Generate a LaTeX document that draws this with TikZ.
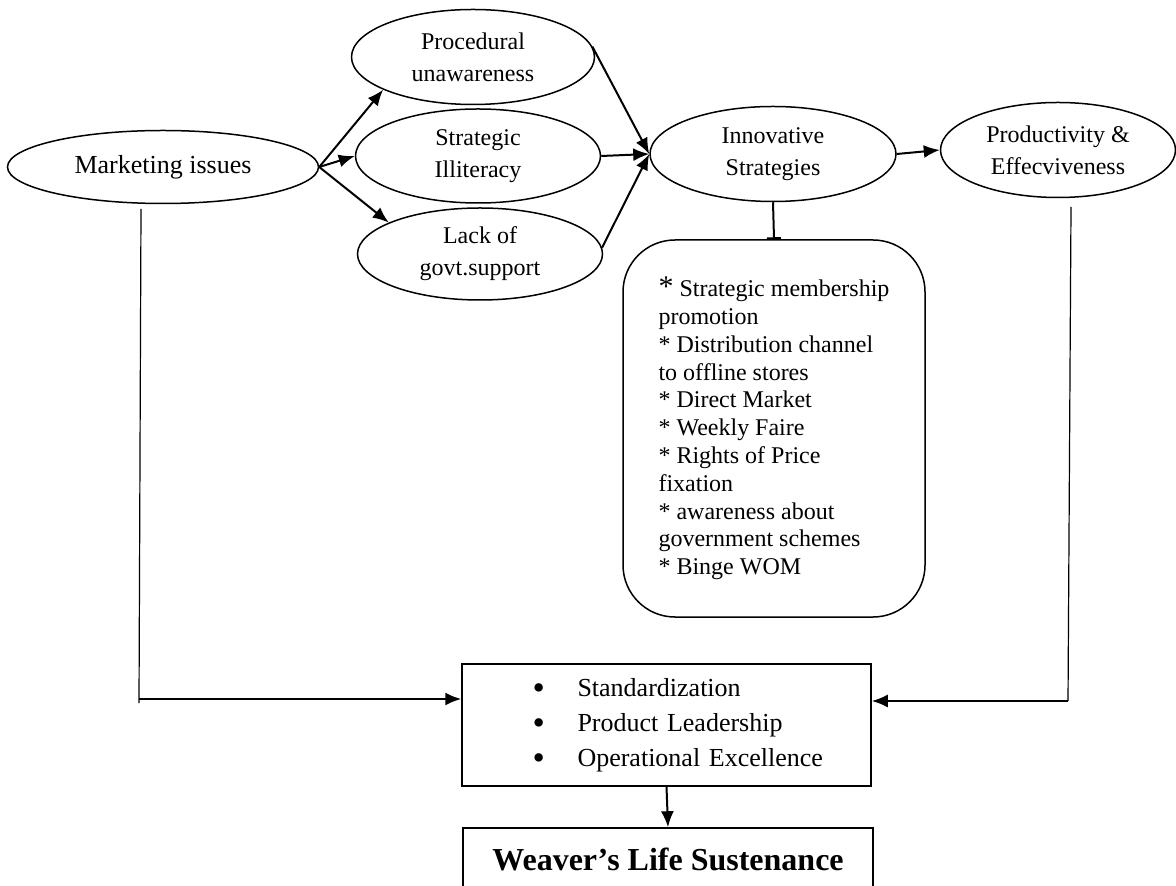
\documentclass[tikz,border=0pt]{standalone}
\usepackage{fontspec}
\setmainfont{Liberation Serif}
\usetikzlibrary{arrows.meta, positioning, shapes.geometric}

\newcommand{\stditem}[1]{\hspace*{25.5pt}\makebox[22.5pt][l]{\smash{\raisebox{-1.8pt}{\scalebox{1.35}{\textbullet}}}}#1}

\begin{document}
\begin{tikzpicture}[
  x=0.5pt, y=-0.5pt,
  every node/.style = {
    align=center,
    font=\fontsize{12}{16}\selectfont,
    line width=0.75pt
  },
  issue/.style = {ellipse, draw, inner sep=0pt},
  notebox/.style = {draw, rounded corners=26pt, align=left,
    minimum width=151pt, minimum height=188.5pt,
    font=\fontsize{12}{13.9}\selectfont},
  plainbox/.style = {draw, rectangle, inner sep=0pt},
  arrow/.style = {-{Latex[length=8pt, width=6.5pt]}, line width=1pt},
  barline/.style = {-{Bar[width=7pt]}, line width=1pt},
  link/.style = {line width=0.6pt}
]
\useasboundingbox (0,0) rectangle (1176,886);

% Issues (left)
\node[issue, minimum width=155.5pt, minimum height=36.5pt,
      font=\fontsize{13}{16}\selectfont] (mkt) at (163,167) {Marketing issues};

\node[issue, minimum width=121.5pt, minimum height=47.5pt] (proc) at (473,57) {Procedural\\unawareness};
\node[issue, minimum width=122.5pt, minimum height=47pt] (strat) at (478,156) {Strategic\\Illiteracy};
\node[issue, minimum width=122.5pt, minimum height=46pt] (lack) at (480,254) {Lack of\\govt.support};

% Strategies and outcome (top right)
\node[issue, minimum width=123pt, minimum height=47.5pt] (innov) at (773,154) {Innovative\\Strategies};
\node[issue, minimum width=117.5pt, minimum height=47.5pt] (prod) at (1058,150) {Productivity \&\\Effecviveness};

% List of strategies
\node[notebox] (notes) at (774,428.5) {{\fontsize{15}{13.9}\selectfont *}\ Strategic membership\\promotion\\* Distribution channel\\to offline stores\\* Direct Market\\* Weekly Faire\\* Rights of Price\\fixation\\* awareness about\\government schemes\\* Binge WOM};

% Bottom boxes
\node[plainbox, minimum width=204.5pt, minimum height=61pt, align=left,
      text width=185pt, inner xsep=9.75pt,
      font=\fontsize{13}{17.5}\selectfont] (std) at (666.5,725)
      {\stditem{Standardization}\\\stditem{Product Leadership}\\\stditem{Operational Excellence}};
\node[plainbox, minimum width=205pt, minimum height=31pt,
      font=\fontsize{16}{18}\selectfont\bfseries] (weaver) at (668,859) {Weaver’s Life Sustenance};

% corner points of the side lines
\coordinate (ltop) at (141,209);
\coordinate (lbot) at (139,703);
\coordinate (ljoin) at (139,699);
\coordinate (rtop) at (1071,207);
\coordinate (rbot) at (1068,701);
\coordinate (rjoin) at (1068,701);

% === ARROWS ===
\draw[arrow] (mkt.east) -- (proc.200);
\draw[arrow] (mkt.east) -- (strat.west);
\draw[arrow] (mkt.east) -- (lack.161);

\draw[arrow] (proc.5) -- (innov.west);
\draw[arrow] (strat.east) -- (innov.west);
\draw[arrow] (lack.3) -- (innov.west);

\draw[arrow] (innov.east) -- (prod.west);
\draw[barline] (innov.south) -- (notes.north);

% side lines into the box
\draw[link] (ltop) -- (lbot);
\draw[arrow] (ljoin) -- (ljoin -| std.west);
\draw[link] (rtop) -- (rbot);
\draw[arrow] (rjoin) -- (rjoin -| std.east);

\draw[arrow] (std.south) -- (weaver.north);

\end{tikzpicture}
\end{document}
